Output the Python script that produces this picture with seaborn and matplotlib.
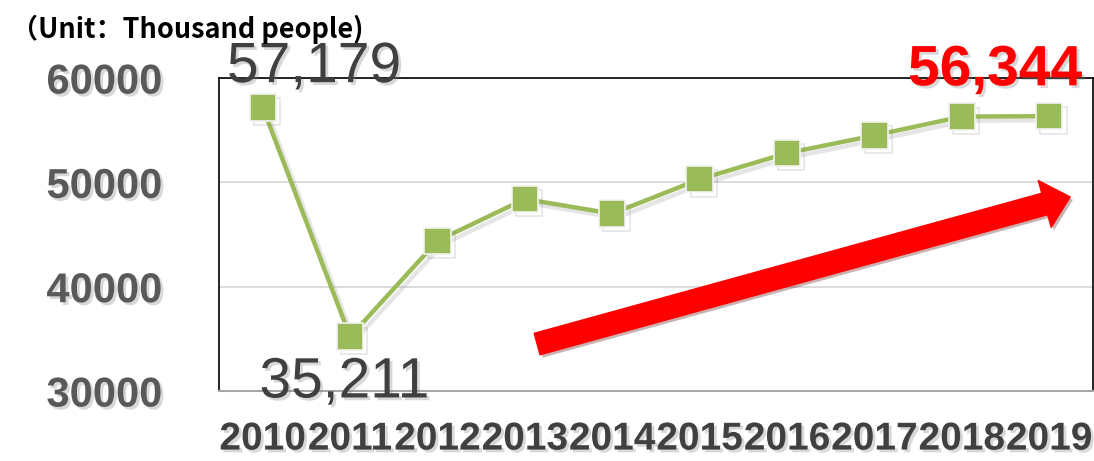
import numpy as np
import pandas as pd
import matplotlib
matplotlib.use('Agg')
import matplotlib.pyplot as plt
import matplotlib.patheffects as pe
import seaborn as sns

# 数据
years = ['2010', '2011', '2012', '2013', '2014', '2015', '2016', '2017', '2018', '2019']
visitors = [57179, 35211, 44400, 48400, 47000, 50300, 52800, 54500, 56300, 56344]
y_ticks = [30000, 40000, 50000, 60000]
title_text = '（Unit：Thousand people)'

sns.set_style('white')
plt.rcParams['font.family'] = ['Liberation Sans', 'DejaVu Sans']

df = pd.DataFrame({'year': years, 'visitors': visitors})

fig = plt.figure(figsize=(10.94, 4.61), dpi=100)
ax = fig.add_axes([0.2002, 0.1518, 0.7988, 0.679])

shadow = [pe.SimpleLineShadow(offset=(3, -3), shadow_color='gray', alpha=0.2), pe.Normal()]
text_shadow = [pe.withSimplePatchShadow(offset=(2, -2), shadow_rgbFace='gray', alpha=0.3)]

sns.lineplot(data=df, x='year', y='visitors', ax=ax, color='#9BBB59', linewidth=3.2,
             marker='s', markersize=19, markerfacecolor='#9BBB59',
             markeredgecolor='#F2F2F2', markeredgewidth=1.2, sort=False)
ax.lines[0].set_path_effects(shadow)

ax.set_xlim(-0.5, len(years) - 0.5)
ax.set_ylim(30000, 60000)
ax.set_yticks(y_ticks)
ax.set_yticklabels([str(v) for v in y_ticks], fontsize=30, fontweight='bold',
                   color='#595959')
ax.set_xticks(range(len(years)))
ax.set_xticklabels(years, fontsize=28, fontweight='bold', color='#404040')
for lbl in ax.get_yticklabels() + ax.get_xticklabels():
    lbl.set_path_effects(text_shadow)
ax.tick_params(axis='y', length=0, pad=41)
ax.tick_params(axis='x', length=0, pad=22)
ax.set_xlabel('')
ax.set_ylabel('')

ax.yaxis.grid(True, color='#D9D9D9', linewidth=1.3)
ax.xaxis.grid(False)
ax.set_axisbelow(True)
for side in ['left', 'top', 'right']:
    ax.spines[side].set_color('black')
    ax.spines[side].set_linewidth(1.2)
ax.spines['bottom'].set_color('#A6A6A6')
ax.spines['bottom'].set_linewidth(1.5)

# 数据标签
ax.annotate(f'{visitors[0]:,}', xy=(0, visitors[0]), xytext=(37, 29),
            textcoords='offset points', ha='center', va='center',
            fontsize=41, color='#404040', path_effects=text_shadow)
ax.annotate(f'{visitors[1]:,}', xy=(1, visitors[1]), xytext=(-4, -33),
            textcoords='offset points', ha='center', va='center',
            fontsize=41, color='#404040', path_effects=text_shadow)
ax.annotate(f'{visitors[-1]:,}', xy=(len(years) - 1, visitors[-1]), xytext=(-39, 33),
            textcoords='offset points', ha='center', va='center',
            fontsize=41, fontweight='bold', color='red', path_effects=text_shadow)

# 红色趋势箭头
ax.annotate('', xy=(0.974, 0.62), xytext=(0.364, 0.15),
            xycoords='axes fraction', textcoords='axes fraction',
            arrowprops=dict(arrowstyle='simple,head_length=1.9,head_width=3.5,tail_width=1.6',
                            mutation_scale=10, color='red', shrinkA=0, shrinkB=0,
                            path_effects=[pe.withSimplePatchShadow(offset=(2, -2), alpha=0.3)]))

fig.text(0.010, 0.937, title_text, fontsize=19.5, fontweight='bold', color='black',
         ha='left', va='center', family=['Noto Sans CJK SC', 'DejaVu Sans'])

fig.savefig('out.png', dpi=100)
